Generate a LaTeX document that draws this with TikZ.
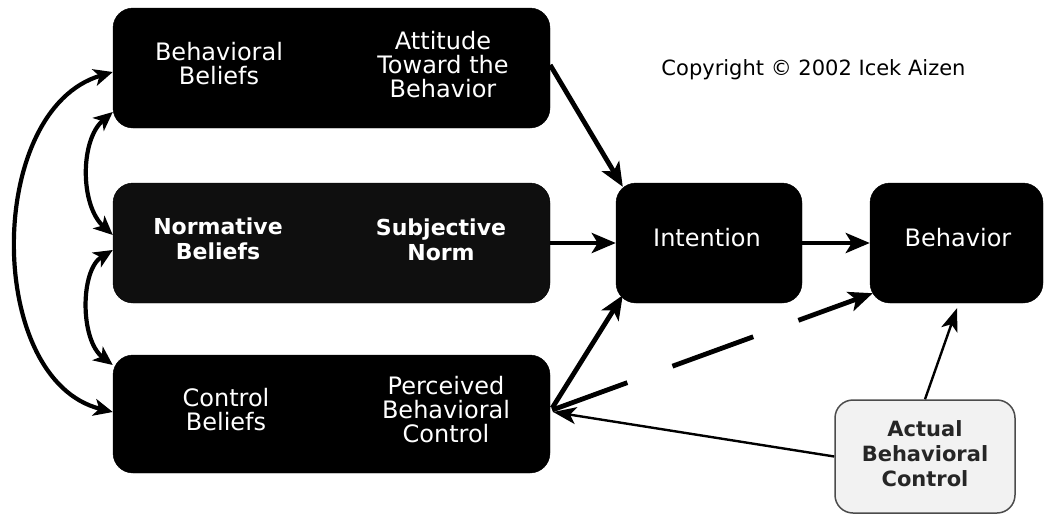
\documentclass[tikz,border=0pt]{standalone}
\usepackage{fontspec}
\setmainfont{DejaVu Sans}
\usetikzlibrary{arrows.meta,calc}
\tikzset{
  darkbox/.style={fill=black,draw=black,rounded corners=20pt,inner sep=0pt},
  greybox/.style={fill=black!94,draw=black,rounded corners=20pt,inner sep=0pt},
  lightbox/.style={fill=gray!10,draw=black!70,line width=1.5pt,rounded corners=18pt,inner sep=0pt},
  wtext/.style={text=white,align=center,font=\fontsize{24}{24}\selectfont},
  wbold/.style={text=white,align=center,font=\fontsize{22}{25}\selectfont\bfseries},
  ktext/.style={text=black!85,align=center,font=\fontsize{21}{25}\selectfont\bfseries},
  bigarrow/.style={line width=4.8pt,-{Stealth[length=24pt,width=20pt,inset=6pt]}},
  curvearrow/.style={line width=4.2pt,{Stealth[length=19pt,width=17pt,inset=5pt]}-{Stealth[length=19pt,width=17pt,inset=5pt]}},
  thinarrow/.style={line width=2.4pt,-{Stealth[length=23pt,width=17pt,inset=6pt]}},
}
\begin{document}
\begin{tikzpicture}[x=1pt,y=-1pt]
\useasboundingbox (0,0) rectangle (1047,517);
% boxes
\node[darkbox,minimum width=437pt,minimum height=120pt] (top) at (331.5,68) {};
\node[greybox,minimum width=437pt,minimum height=120pt] (mid) at (331.5,243) {};
\node[darkbox,minimum width=437pt,minimum height=118pt] (bot) at (331.5,414) {};
\node[darkbox,minimum width=186pt,minimum height=120pt] (int) at (709,243) {};
\node[darkbox,minimum width=173pt,minimum height=120pt] (beh) at (956.5,243) {};
\node[lightbox,minimum width=180pt,minimum height=113pt] (act) at (925,456.5) {};
% texts
\node[wtext] (tbb) at (219,64) {Behavioral\\Beliefs};
\node[wtext] (tat) at (443,65) {Attitude\\Toward the\\Behavior};
\node[wbold] (tnb) at (218,239) {Normative\\Beliefs};
\node[wbold] (tsn) at (441,240) {Subjective\\Norm};
\node[wtext] (tcb) at (226,410) {Control\\Beliefs};
\node[wtext] (tpb) at (446,410) {Perceived\\Behavioral\\Control};
\node[wtext] (tin) at (707,238) {Intention};
\node[wtext] (tbe) at (958,238) {Behavior};
\node[ktext] (tac) at (925,454) {Actual\\Behavioral\\Control};
\node[anchor=base,font=\fontsize{21}{24}\selectfont,text=black] (copy) at (813.5,75) {Copyright © 2002 Icek Aizen};
% main arrows
\draw[bigarrow] ($(top.east)+(0,-3)$) -- ($(int.north west)+(7,4)$);
\draw[bigarrow] (mid.east) -- (int.west);
\draw[bigarrow] (int.east) -- (beh.west);
\draw[bigarrow] ($(bot.east)+(2,-6)$) -- ($(int.south west)+(7,-8)$);
\draw[bigarrow,dash pattern=on 80pt off 48pt on 86pt off 48pt] ($(bot.east)+(2,-4)$) -- ($(beh.south west)+(3,-10)$);
\draw[thinarrow] (act.west) -- ($(bot.east)+(3,-2)$);
\draw[thinarrow] (act.north) -- ($(beh.south)+(0.5,5)$);
% curved arrows on the left
\draw[curvearrow] ($(top.west)+(0,4)$) .. controls (-15,110) and (-15,380) .. ($(bot.west)+(0,-2)$);
\draw[curvearrow] ($(top.west)+(0,44)$) .. controls (80,140) and (80,205) .. ($(mid.west)+(0,-8)$);
\draw[curvearrow] ($(mid.west)+(0,7)$) .. controls (80,270) and (80,340) .. ($(bot.west)+(0,-49)$);
\end{tikzpicture}
\end{document}
